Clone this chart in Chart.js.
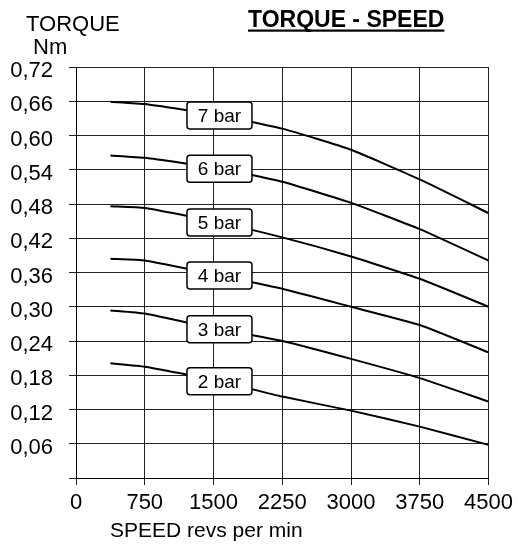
<!DOCTYPE html>
<html>
<head>
<meta charset="utf-8">
<script src="https://cdn.jsdelivr.net/npm/chart.js@4"></script>
<style>
  html, body { margin: 0; padding: 0; background: #fff; }
  #wrap { width: 518px; height: 545px; }
</style>
</head>
<body>
<div id="wrap"><canvas id="torqueChart" width="518" height="545"></canvas></div>
<script>
// Speed points (revs per min) and torque readings (Nm) for each supply pressure
const speeds = [375, 750, 1500, 2250, 3000, 3750, 4500];
const bar7 = [0.659, 0.655, 0.637, 0.612, 0.575, 0.523, 0.464];
const bar6 = [0.565, 0.561, 0.544, 0.519, 0.482, 0.436, 0.381];
const bar5 = [0.476, 0.473, 0.450, 0.4215, 0.388, 0.349, 0.300];
const bar4 = [0.384, 0.381, 0.357, 0.3315, 0.300, 0.268, 0.220];
const bar3 = [0.2935, 0.288, 0.2625, 0.240, 0.2087, 0.175, 0.134];
const bar2 = [0.201, 0.195, 0.172, 0.1426, 0.118, 0.090, 0.058];
const seriesLabels = ['7 bar', '6 bar', '5 bar', '4 bar', '3 bar', '2 bar'];
const seriesValues = [bar7, bar6, bar5, bar4, bar3, bar2];

const FONT = "'Liberation Sans', Arial, sans-serif";
Chart.defaults.font.family = FONT;
Chart.defaults.color = '#000';

/**
 * Draws the title, axis captions and the boxed curve labels.
 */
const decorations = {
    id: 'decorations',
    afterDatasetsDraw(chart) {
        const ctx = chart.ctx;
        const xs = chart.scales.x;
        ctx.save();

        // curve labels sit on top of the lines
        const boxW = 65, boxH = 27;
        const cx = xs.getPixelForValue(1565);
        chart.data.datasets.forEach((ds, i) => {
            const pts = chart.getDatasetMeta(i).data;
            const a = pts[2], b = pts[3];
            const cy = a.y + (b.y - a.y) * (cx - a.x) / (b.x - a.x);
            ctx.beginPath();
            ctx.roundRect(cx - boxW / 2, cy - boxH / 2, boxW, boxH, 3);
            ctx.fillStyle = '#fff';
            ctx.fill();
            ctx.lineWidth = 1.5;
            ctx.strokeStyle = '#000';
            ctx.stroke();
            ctx.fillStyle = '#000';
            ctx.font = `19px ${FONT}`;
            ctx.textAlign = 'center';
            ctx.textBaseline = 'middle';
            ctx.fillText(ds.label, cx, cy + 1);
        });
        ctx.restore();
    },
    afterDraw(chart) {
        const ctx = chart.ctx;
        ctx.save();
        ctx.fillStyle = '#000';
        ctx.textBaseline = 'alphabetic';
        ctx.textAlign = 'left';

        // title, underlined
        ctx.font = `bold 23px ${FONT}`;
        const title = 'TORQUE - SPEED';
        ctx.fillText(title, 248, 26.5);
        const tw = ctx.measureText(title).width;
        ctx.fillRect(248, 29.5, tw, 2.2);

        // y caption
        ctx.font = `22px ${FONT}`;
        ctx.fillText('TORQUE', 26, 31);
        ctx.fillText('Nm', 33, 54);

        // x caption
        ctx.font = `21px ${FONT}`;
        ctx.fillText('SPEED revs per min', 110, 536.5);
        ctx.restore();
    }
};

document.addEventListener('DOMContentLoaded', () => {
    const ctx = document.getElementById('torqueChart').getContext('2d');

    const datasets = seriesLabels.map((label, i) => ({
        label: label,
        data: speeds.map((s, j) => ({ x: s, y: seriesValues[i][j] })),
        borderColor: '#000',
        borderWidth: 2,
        pointRadius: 0,
        tension: 0.15,
        fill: false
    }));

    new Chart(ctx, {
        type: 'line',
        data: { datasets },
        options: {
            responsive: false,
            animation: false,
            layout: { padding: { left: 0, right: 29, top: 67, bottom: 0 } },
            plugins: {
                legend: { display: false },
                tooltip: { enabled: false }
            },
            scales: {
                x: {
                    type: 'linear', min: 0, max: 4500,
                    ticks: {
                        stepSize: 750, padding: 5, font: { size: 22 }, color: '#000', maxRotation: 0,
                        callback: v => String(v)
                    },
                    grid: { color: '#222', lineWidth: 1, tickLength: 7 },
                    border: { color: '#000', width: 1 },
                    afterFit: s => { s.height = 67; }
                },
                y: {
                    min: 0, max: 0.72,
                    ticks: {
                        stepSize: 0.06, padding: 16, labelOffset: 4,
                        font: { size: 22 }, color: '#000',
                        callback: v => v === 0 ? '' : v.toFixed(2).replace('.', ',')
                    },
                    grid: { color: '#222', lineWidth: 1, tickLength: 7 },
                    border: { color: '#000', width: 1 },
                    afterFit: s => { s.width = 76; }
                }
            }
        },
        plugins: [decorations]
    });
});
</script>
</body>
</html>
